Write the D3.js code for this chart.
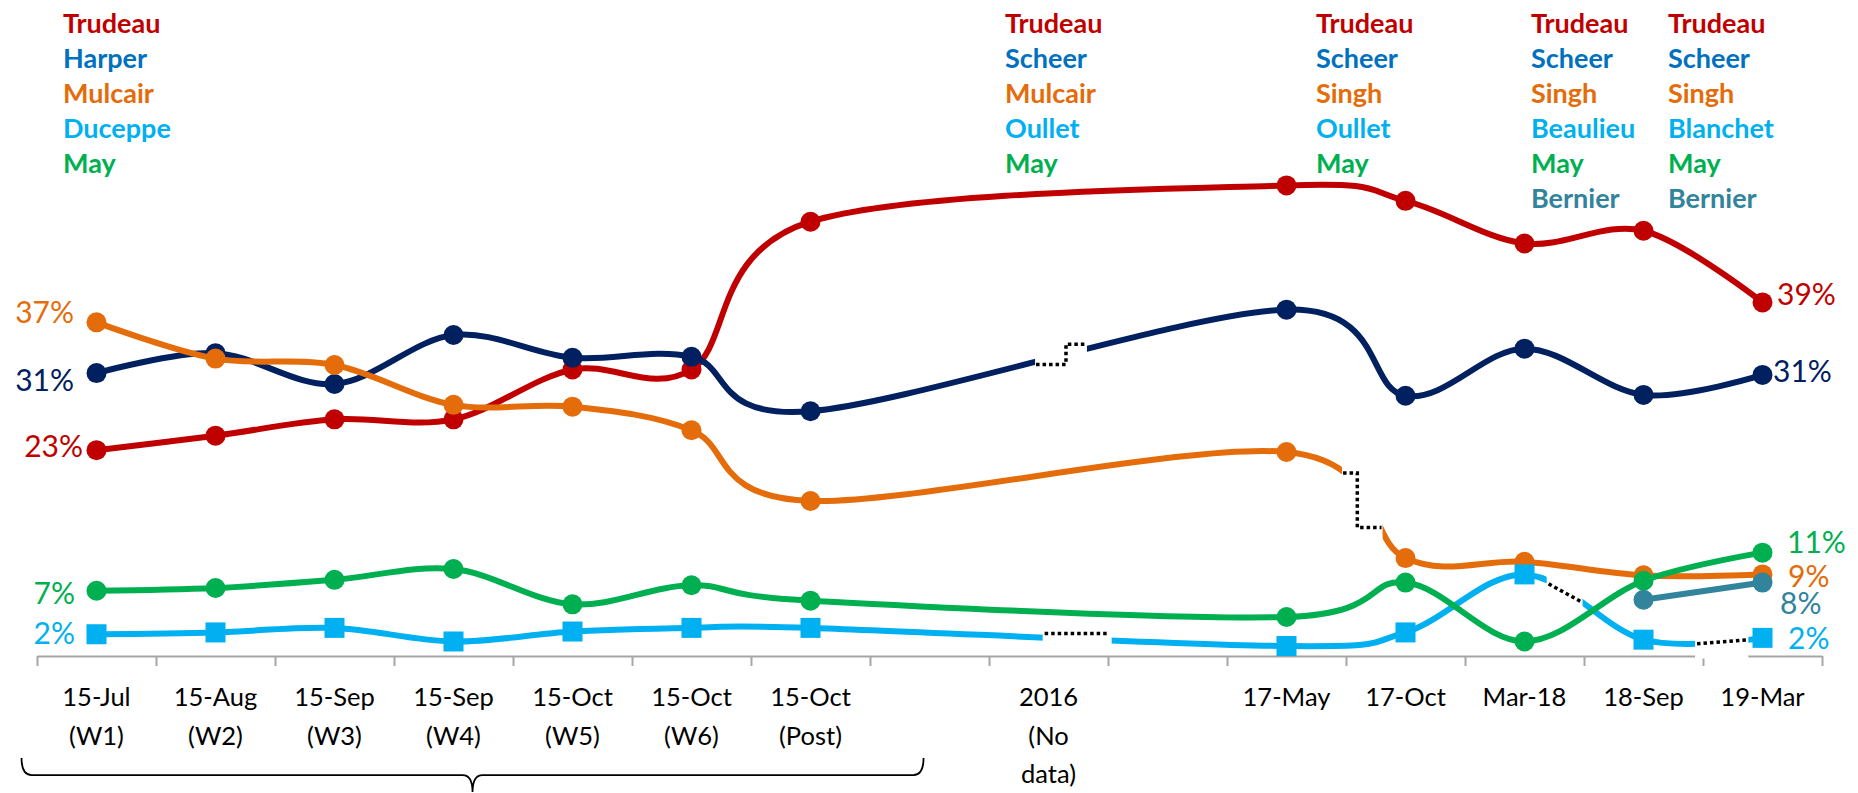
<!DOCTYPE html>
<html>
<head>
<meta charset="utf-8">
<script src="https://cdn.jsdelivr.net/npm/d3@7"></script>
<style>
  html, body { margin: 0; background: #fff; }
  svg { display: block; font-family: Lato, 'Open Sans', sans-serif; }
</style>
</head>
<body>
<svg id="chart" width="1858" height="793"></svg>
<script>
// ---------------------------------------------------------------------------
// Leader preference over time (smoothed lines, Excel style)
// ---------------------------------------------------------------------------

/* ----- data --------------------------------------------------------------- */
// 15 category slots; index 7 and 9 are empty spacers
const categories = [
  '15-Jul\n(W1)', '15-Aug\n(W2)', '15-Sep\n(W3)', '15-Sep\n(W4)',
  '15-Oct\n(W5)', '15-Oct\n(W6)', '15-Oct\n(Post)', '',
  '2016\n(No\ndata)', '', '17-May', '17-Oct', 'Mar-18', '18-Sep', '19-Mar'
];

const trudeau = [22.7, 24.3, 26.1, 26.1, 31.6, 31.6, 47.9, null, null, null, 51.9, 50.2, 45.5, 46.9, 39.0];
const harper  = [31.2, 33.4, 30.0, 35.4, 32.9, 33.0, 27.0, null, null, null, 38.2, 28.7, 33.9, 28.8, 31.0];
const mulcair = [36.8, 32.8, 32.1, 27.7, 27.5, 24.9, 17.1, null, null, null, 22.5, 10.8, 10.4,  8.9,  9.0];
const bloc    = [ 2.4,  2.6,  3.1,  1.6,  2.7,  3.1,  3.1, null, null, null,  1.1,  2.6,  9.0,  1.8,  2.0];
const may     = [ 7.2,  7.5,  8.4,  9.6,  5.7,  7.8,  6.1, null, null, null,  4.3,  8.1,  1.6,  8.3, 11.4];
const bernier = [null, null, null, null, null, null, null, null, null, null, null, null, null,  6.2,  8.1];

const legendBlocks = [
  ['Trudeau', 'Harper', 'Mulcair', 'Duceppe', 'May'],
  ['Trudeau', 'Scheer', 'Mulcair', 'Oullet', 'May'],
  ['Trudeau', 'Scheer', 'Singh', 'Oullet', 'May'],
  ['Trudeau', 'Scheer', 'Singh', 'Beaulieu', 'May', 'Bernier'],
  ['Trudeau', 'Scheer', 'Singh', 'Blanchet', 'May', 'Bernier']
];

/* ----- styles / layout ---------------------------------------------------- */
const W = 1858, H = 793;
const LEGEND_COLORS = ['#C00000', '#0070C0', '#E46C0A', '#00B0F0', '#00B050', '#31849B'];
const LEGEND_X = [63, 1005, 1316, 1531, 1668];

const series = [
  {key: 'trudeau', values: trudeau, color: '#C00000', marker: 'circle'},
  {key: 'harper',  values: harper,  color: '#002060', marker: 'circle'},
  {key: 'mulcair', values: mulcair, color: '#E46C0A', marker: 'circle'},
  {key: 'bloc',    values: bloc,    color: '#00B0F0', marker: 'square'},
  {key: 'may',     values: may,     color: '#00B050', marker: 'circle'},
  {key: 'bernier', values: bernier, color: '#31849B', marker: 'circle'}
];

// percentage labels at first / last point (offsets in px)
const valueLabels = [
  {key: 'mulcair', i: 0,  dx: -22.5, dy: -10, anchor: 'end'},
  {key: 'harper',  i: 0,  dx: -22.5, dy:   7, anchor: 'end'},
  {key: 'trudeau', i: 0,  dx: -13.5, dy:  -4, anchor: 'end'},
  {key: 'may',     i: 0,  dx: -21.5, dy:   2, anchor: 'end'},
  {key: 'bloc',    i: 0,  dx: -21.5, dy:  -1, anchor: 'end'},
  {key: 'trudeau', i: 14, dx:  14.5, dy:  -8, anchor: 'start'},
  {key: 'harper',  i: 14, dx:  10.5, dy:  -4, anchor: 'start'},
  {key: 'may',     i: 14, dx:  24.5, dy: -10, anchor: 'start'},
  {key: 'mulcair', i: 14, dx:  25.5, dy:   2, anchor: 'start'},
  {key: 'bernier', i: 14, dx:  17.5, dy:  21, anchor: 'start'},
  {key: 'bloc',    i: 14, dx:  25.5, dy:   0, anchor: 'start'}
];

// "broken line" marks (index units along the x axis)
const breaks = [
  {key: 'harper',  from: 7.887,  to: 8.323,  kind: 'step', mid: 8.147},
  {key: 'mulcair', from: 10.467, to: 10.807, kind: 'step', mid: 10.595},
  {key: 'bloc',    from: 7.951,  to: 8.531,  kind: 'flat'},
  {key: 'bloc',    from: 12.186, to: 12.488, kind: 'straight', dy0: 4, dy1: 0},
  {key: 'bloc',    from: 13.433, to: 13.881, kind: 'straight', dy0: 0, dy1: 0, axisGap: true}
];

const BRACKET = {from: -0.63, to: 6.95};

/* ----- scales --------------------------------------------------------------- */
const svg = d3.select('#chart');
svg.append('rect').attr('width', W).attr('height', H).attr('fill', '#fff');

const x = d3.scaleLinear().domain([-0.5, categories.length - 0.5]).range([37, 1822]);
const y = d3.scaleLinear().domain([0, 60]).range([656, 112]);

/* ----- axis ---------------------------------------------------------------- */
const axisG = svg.append('g')
  .attr('transform', `translate(0,${y(0)})`)
  .call(d3.axisBottom(x)
    .tickValues(d3.range(-0.5, categories.length, 1))
    .tickSize(10).tickSizeOuter(0).tickFormat(''));
axisG.selectAll('.domain, .tick line').attr('stroke', '#A6A6A6').attr('stroke-width', 2);

const catText = svg.append('g')
  .selectAll('text').data(categories).join('text')
    .attr('text-anchor', 'middle')
    .attr('font-size', 25.5)
    .attr('fill', '#000');
catText.each(function(c, i) {
  c.split('\n').forEach((s, k) => {
    d3.select(this).append('tspan')
      .attr('x', x(i)).attr('y', y(0) + 50 + k * 38.5).text(s);
  });
});

// brace below the 2015 campaign waves
{
  const L = x(BRACKET.from), R = x(BRACKET.to), C = (L + R) / 2;
  const yb = y(0) + 119, yt = y(0) + 102, yc = y(0) + 136;
  svg.append('path')
    .attr('d', `M${L},${yt} Q${L},${yb} ${L + 10},${yb} H${C - 10} Q${C},${yb} ${C},${yc}
                M${C},${yc} Q${C},${yb} ${C + 10},${yb} H${R - 10} Q${R},${yb} ${R},${yt}`)
    .attr('fill', 'none').attr('stroke', '#000').attr('stroke-width', 1.75);
}

/* ----- legend blocks -------------------------------------------------------- */
legendBlocks.forEach((names, b) => {
  svg.append('g').selectAll('text').data(names).join('text')
    .attr('x', LEGEND_X[b])
    .attr('y', (d, k) => 33.3 + k * 35)
    .attr('font-size', 27).attr('font-weight', 700)
    .attr('fill', (d, k) => LEGEND_COLORS[k])
    .text(d => d);
});

/* ----- masks for broken segments ------------------------------------------- */
const defs = svg.append('defs');
d3.groups(breaks, d => d.key).forEach(([key, list]) => {
  const m = defs.append('mask').attr('id', `mask-${key}`)
    .attr('maskUnits', 'userSpaceOnUse')
    .attr('x', 0).attr('y', 0).attr('width', W).attr('height', H);
  m.append('rect').attr('width', W).attr('height', H).attr('fill', '#fff');
  list.forEach(b => m.append('rect')
    .attr('x', x(b.from)).attr('width', x(b.to) - x(b.from))
    .attr('y', 0).attr('height', H).attr('fill', '#000'));
});

/* ----- lines + markers ------------------------------------------------------ */
const line = d3.line()
  .x(d => x(d.i)).y(d => y(d.v))
  .curve(d3.curveCardinal.tension(0));

const pathNodes = {};
series.forEach(s => {
  const pts = s.values.map((v, i) => ({i, v})).filter(d => d.v != null);
  const g = svg.append('g');
  const p = g.append('path')
    .attr('d', line(pts))
    .attr('fill', 'none')
    .attr('stroke', s.color)
    .attr('stroke-width', 6)
    .attr('stroke-linejoin', 'round');
  if (breaks.some(b => b.key === s.key)) p.attr('mask', `url(#mask-${s.key})`);
  pathNodes[s.key] = p.node();

  if (s.marker === 'circle') {
    g.selectAll('circle').data(pts).join('circle')
      .attr('cx', d => x(d.i)).attr('cy', d => y(d.v))
      .attr('r', 10).attr('fill', s.color);
  } else {
    g.selectAll('rect').data(pts).join('rect')
      .attr('x', d => x(d.i) - 10).attr('y', d => y(d.v) - 10)
      .attr('width', 20).attr('height', 20).attr('fill', s.color);
  }
});

/* ----- break decorations ----------------------------------------------------- */
function yAt(node, px) {
  let lo = 0, hi = node.getTotalLength();
  for (let k = 0; k < 40; k++) {
    const mid = (lo + hi) / 2;
    if (node.getPointAtLength(mid).x < px) lo = mid; else hi = mid;
  }
  return node.getPointAtLength(lo).y;
}

breaks.forEach(b => {
  const node = pathNodes[b.key];
  const x0 = x(b.from), x1 = x(b.to);
  const yA = yAt(node, x0), yB = yAt(node, x1);
  let d;
  if (b.kind === 'step') {
    d = `M${x0 + 1},${yA + 2.5} H${x(b.mid)} V${yB - 4.5} H${x1 - 1}`;
  } else if (b.kind === 'flat') {
    d = `M${x0 + 2},${yA - 4} H${x1 - 2}`;
  } else {
    d = `M${x0 + 2},${yA + b.dy0} L${x1},${yB + b.dy1}`;
  }
  if (b.axisGap) {
    svg.append('rect').attr('x', x0).attr('width', x1 - x0)
      .attr('y', y(0) - 2).attr('height', 4.5).attr('fill', '#fff');
  }
  svg.append('path').attr('d', d)
    .attr('fill', 'none').attr('stroke', '#000')
    .attr('stroke-width', 3.5).attr('stroke-dasharray', '3.5 3');
});

/* ----- value labels ---------------------------------------------------------- */
const byKey = new Map(series.map(s => [s.key, s]));
svg.append('g').selectAll('text').data(valueLabels).join('text')
  .attr('x', d => x(d.i) + d.dx)
  .attr('y', d => y(byKey.get(d.key).values[d.i]) + d.dy + 10.8)
  .attr('text-anchor', d => d.anchor)
  .attr('font-size', 30)
  .attr('fill', d => byKey.get(d.key).color)
  .text(d => `${Math.round(byKey.get(d.key).values[d.i])}%`);
</script>
</body>
</html>
